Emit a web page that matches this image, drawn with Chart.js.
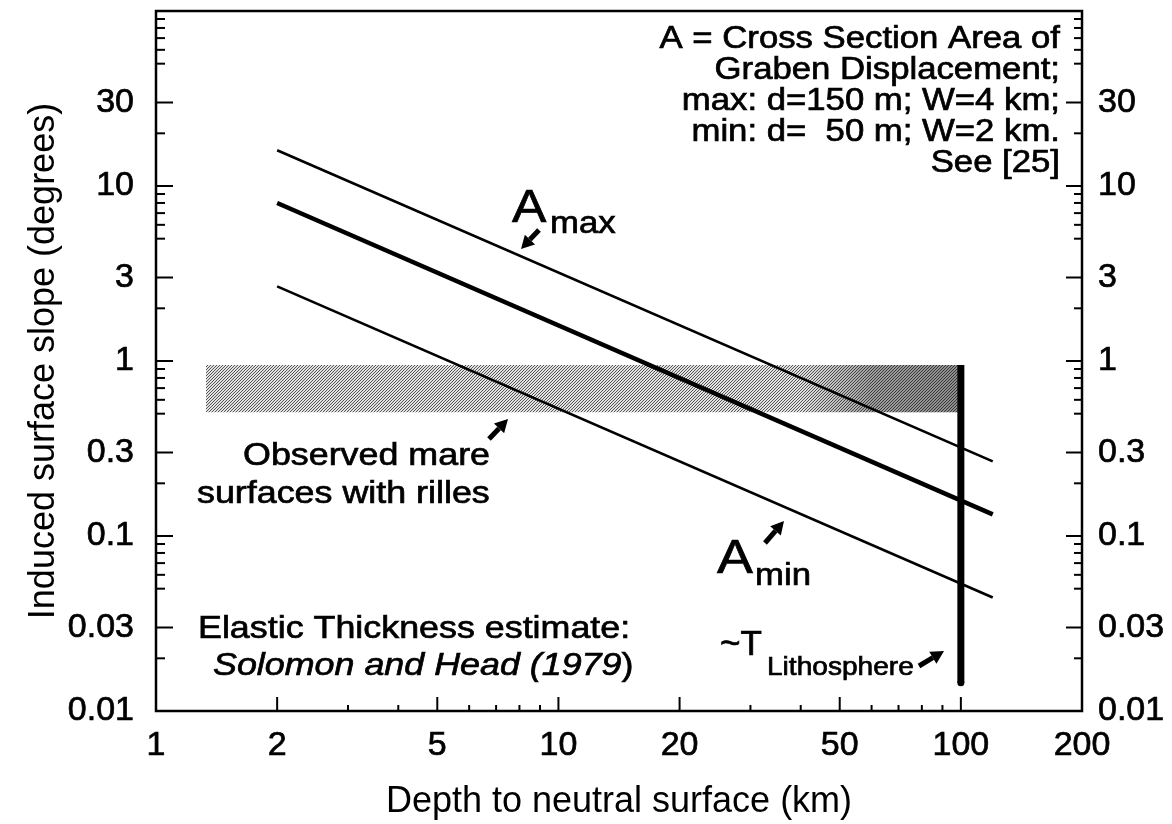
<!DOCTYPE html>
<html>
<head>
<meta charset="utf-8">
<script src="https://cdn.jsdelivr.net/npm/chart.js@4.4.1/dist/chart.umd.min.js"></script>
<style>
  html, body { margin: 0; padding: 0; background: #fff; }
  #c { display: block; }
</style>
</head>
<body>
<canvas id="c" width="1172" height="824"></canvas>
<script>
const FONT = '"Liberation Sans", Arial, Helvetica, sans-serif';

// Model lines: induced slope (degrees) against depth to neutral surface (km)
const depthKm   = [2, 120];
const slopeAmax = [16, 0.267];
const slopeAmid = [8, 0.133];
const slopeAmin = [2.67, 0.0445];

// Slope band of observed mare surfaces with rilles
const bandDepthKm     = [1.33, 100];
const bandSlopeTop    = 0.95;
const bandSlopeBottom = 0.51;
const bandDarkDepthKm = [40, 100];

// Elastic lithosphere thickness estimate
const lithDepthKm    = 100;
const lithSlopeRange = [0.95, 0.0145];

// Axis ticks
const xTickValues = [1,2,3,4,5,6,7,8,9,10,20,30,40,50,60,70,80,90,100,200];
const xTickLabels = [1,2,5,10,20,50,100,200];
const yTickValues = [0.01,0.02,0.03,0.05,0.06,0.07,0.08,0.09,
                     0.1,0.2,0.3,0.5,0.6,0.7,0.8,0.9,
                     1,2,3,5,6,7,8,9,
                     10,20,30,50,60,70,80,90,100];
const yTickLabels = [0.01,0.03,0.1,0.3,1,3,10,30];

const pts = (xs, ys) => xs.map((x, i) => ({ x, y: ys[i] }));

const canvas = document.getElementById('c');
const mainCtx = canvas.getContext('2d');

// fine diagonal hatching for the observed band
function hatchPattern() {
  const t = document.createElement('canvas');
  t.width = 6; t.height = 6;
  const g = t.getContext('2d');
  g.fillStyle = '#e2e2e2';
  g.fillRect(0, 0, 6, 6);
  g.strokeStyle = '#555';
  g.lineWidth = 1;
  for (const o of [-6, -3, 0, 3, 6]) {
    g.beginPath(); g.moveTo(o, 6); g.lineTo(o + 6, 0); g.stroke();
  }
  return mainCtx.createPattern(t, 'repeat');
}

const setTicks = values => scale => { scale.ticks = values.map(v => ({ value: v })); };
const labelOf = list => v => (list.includes(v) ? String(v) : '');
const noPadY = w => s => { s.width = w; s.paddingTop = 0; s.paddingBottom = 0; };

const tickFont = { family: FONT, size: 34 };
const titleFont = { family: FONT, size: 36 };

// drawing helpers for the frame, inward ticks and annotations
function text(ctx, s, x, y, size, o = {}) {
  const sx = o.sx || 1.12;
  ctx.save();
  ctx.translate(x, y);
  ctx.scale(sx, 1);
  ctx.font = (o.italic ? 'italic ' : '') + size + 'px ' + FONT;
  ctx.textAlign = o.align || 'left';
  ctx.textBaseline = 'alphabetic';
  ctx.fillStyle = '#000';
  ctx.strokeStyle = '#000';
  ctx.lineWidth = 0.7;
  ctx.fillText(s, 0, 0);
  ctx.strokeText(s, 0, 0);
  const w = ctx.measureText(s).width * sx;
  ctx.restore();
  return w;
}

function arrow(ctx, x1, y1, x2, y2) {
  const a = Math.atan2(y2 - y1, x2 - x1);
  const hl = 13, hw = 7;
  const bx = x2 - hl * Math.cos(a), by = y2 - hl * Math.sin(a);
  ctx.save();
  ctx.strokeStyle = '#000'; ctx.fillStyle = '#000';
  ctx.lineWidth = 5; ctx.lineCap = 'butt';
  ctx.beginPath(); ctx.moveTo(x1, y1); ctx.lineTo(bx, by); ctx.stroke();
  ctx.beginPath();
  ctx.moveTo(x2, y2);
  ctx.lineTo(bx + hw * Math.sin(a), by - hw * Math.cos(a));
  ctx.lineTo(bx - hw * Math.sin(a), by + hw * Math.cos(a));
  ctx.closePath(); ctx.fill();
  ctx.restore();
}

const decor = {
  id: 'decor',
  afterDraw(chart) {
    const ctx = chart.ctx;
    const { left, right, top, bottom } = chart.chartArea;
    const xs = chart.scales.x, ys = chart.scales.y;

    ctx.save();
    ctx.strokeStyle = '#000';
    ctx.lineWidth = 2;
    const seg = (a, b, c, d) => { ctx.beginPath(); ctx.moveTo(a, b); ctx.lineTo(c, d); ctx.stroke(); };

    xTickValues.forEach(v => {
      const px = xs.getPixelForValue(v);
      const len = xTickLabels.includes(v) ? 14 : 6;
      seg(px, bottom, px, bottom - len);
    });
    yTickValues.forEach(v => {
      const py = ys.getPixelForValue(v);
      const major = yTickLabels.includes(v) || v === 100;
      seg(left, py, left + (major ? 17 : 9), py);
      seg(right, py, right - (major ? 16 : 8), py);
    });

    ctx.lineWidth = 2.5;
    ctx.strokeRect(left, top, right - left, bottom - top);
    ctx.restore();

    // legend block, upper right
    const block = [
      'A = Cross Section Area of',
      'Graben Displacement;',
      'max: d=150 m; W=4 km;',
      'min: d=  50 m; W=2 km.',
      'See [25]'
    ];
    block.forEach((s, i) => text(ctx, s, 1060, 48 + i * 31, 31, { align: 'right' }));

    // line labels
    text(ctx, 'A', 512, 222, 46);
    text(ctx, 'max', 550, 233, 31);
    arrow(ctx, 539, 230, 521, 249);

    text(ctx, 'A', 717, 573, 48);
    text(ctx, 'min', 755, 585, 31);
    arrow(ctx, 765, 543, 784, 521);

    // band label
    text(ctx, 'Observed mare', 243, 465, 32);
    text(ctx, 'surfaces with rilles', 197, 503, 32);
    arrow(ctx, 489, 439, 508, 419);

    // lithosphere label
    text(ctx, 'Elastic Thickness estimate:', 198, 638, 32);
    const w = text(ctx, 'Solomon and Head (1979', 213, 675, 32, { italic: true });
    text(ctx, ')', 213 + w, 675, 32);
    text(ctx, '~T', 720, 655, 35, { sx: 1.0 });
    text(ctx, 'Lithosphere', 767, 675, 26, { sx: 1.08 });
    arrow(ctx, 919, 666, 944, 651);
  }
};

new Chart(canvas, {
  type: 'line',
  data: {
    datasets: [
      {
        data: pts([lithDepthKm, lithDepthKm], lithSlopeRange),
        borderColor: '#000', borderWidth: 7, borderCapStyle: 'butt',
        pointRadius: [0, 3.5], pointBackgroundColor: '#000', pointBorderWidth: 0,
        fill: false
      },
      { data: pts(depthKm, slopeAmax), borderColor: '#000', borderWidth: 2.6, pointRadius: 0, fill: false },
      { data: pts(depthKm, slopeAmid), borderColor: '#000', borderWidth: 4.5, pointRadius: 0, fill: false },
      { data: pts(depthKm, slopeAmin), borderColor: '#000', borderWidth: 2.6, pointRadius: 0, fill: false },
      {
        data: pts(bandDarkDepthKm, [bandSlopeTop, bandSlopeTop]),
        borderWidth: 0, pointRadius: 0,
        fill: { value: bandSlopeBottom },
        backgroundColor: (c) => {
          const ch = c.chart;
          if (!ch.chartArea) return 'rgba(0,0,0,0)';
          const sx = ch.scales.x;
          const g = ch.ctx.createLinearGradient(
            sx.getPixelForValue(bandDarkDepthKm[0]), 0,
            sx.getPixelForValue(bandDarkDepthKm[1]), 0);
          g.addColorStop(0, 'rgba(0,0,0,0)');
          g.addColorStop(0.45, 'rgba(0,0,0,0.30)');
          g.addColorStop(1, 'rgba(0,0,0,0.38)');
          return g;
        }
      },
      {
        data: pts(bandDepthKm, [bandSlopeTop, bandSlopeTop]),
        borderWidth: 0, pointRadius: 0,
        fill: { value: bandSlopeBottom },
        backgroundColor: hatchPattern()
      }
    ]
  },
  options: {
    responsive: false,
    devicePixelRatio: 1,
    animation: false,
    events: [],
    layout: { padding: { top: 11, left: 0, right: 0, bottom: 0 } },
    elements: { line: { tension: 0 } },
    plugins: { legend: { display: false }, tooltip: { enabled: false } },
    scales: {
      x: {
        type: 'logarithmic', position: 'bottom', min: 1, max: 200,
        afterBuildTicks: setTicks(xTickValues),
        afterFit: s => { s.height = 113; s.paddingLeft = 0; s.paddingRight = 0; },
        grid: { display: false, drawTicks: false },
        border: { display: false },
        ticks: { autoSkip: false, maxRotation: 0, padding: 14, color: '#000', font: tickFont,
                 textStrokeColor: '#000', textStrokeWidth: 0.7,
                 callback: labelOf(xTickLabels) },
        title: { display: true, text: 'Depth to neutral surface (km)', color: '#000', font: titleFont,
                 padding: { top: 0, bottom: 0 } }
      },
      y: {
        type: 'logarithmic', position: 'left', min: 0.01, max: 100,
        afterBuildTicks: setTicks(yTickValues),
        afterFit: noPadY(156),
        grid: { display: false, drawTicks: false },
        border: { display: false },
        ticks: { autoSkip: false, padding: 22, color: '#000', font: tickFont,
                 textStrokeColor: '#000', textStrokeWidth: 0.7,
                 callback: labelOf(yTickLabels) },
        title: { display: true, text: 'Induced surface slope (degrees)', color: '#000', font: titleFont,
                 padding: { top: 22, bottom: 0 } }
      },
      y2: {
        type: 'logarithmic', position: 'right', min: 0.01, max: 100,
        afterBuildTicks: setTicks(yTickValues),
        afterFit: noPadY(90),
        grid: { display: false, drawTicks: false },
        border: { display: false },
        ticks: { autoSkip: false, padding: 16, color: '#000', font: tickFont,
                 textStrokeColor: '#000', textStrokeWidth: 0.7,
                 callback: labelOf(yTickLabels) }
      }
    }
  },
  plugins: [decor]
});
</script>
</body>
</html>
